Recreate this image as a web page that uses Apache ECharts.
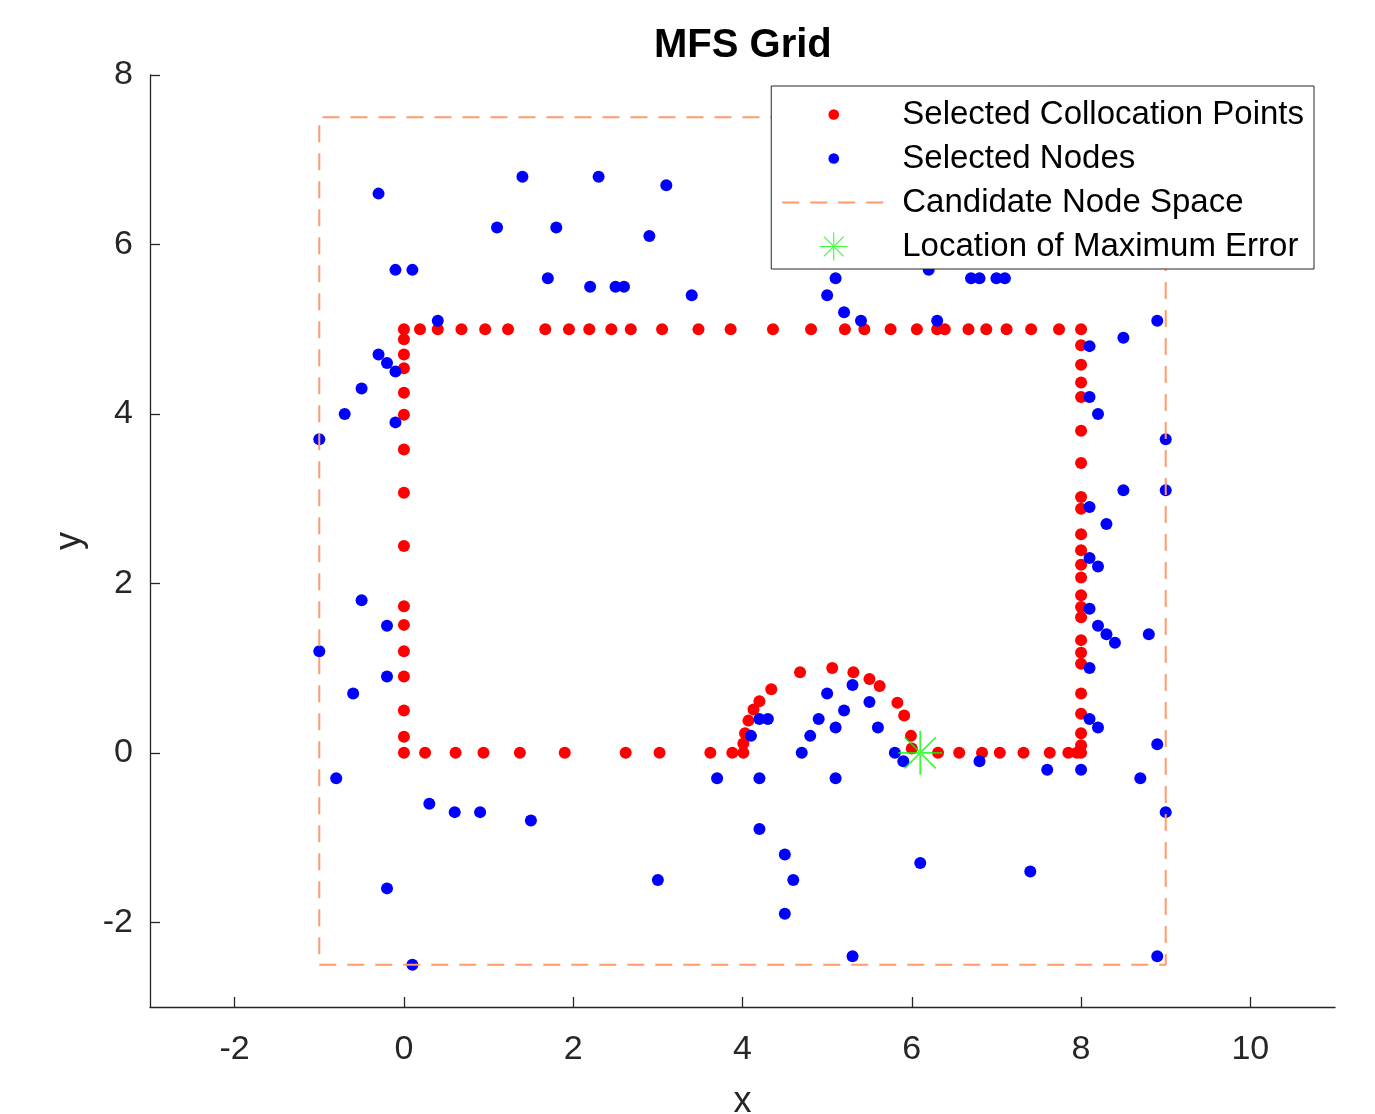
<!DOCTYPE html>
<html>
<head>
<meta charset="utf-8">
<title>MFS Grid</title>
<script src="https://cdn.jsdelivr.net/npm/echarts@6/dist/echarts.min.js"></script>
<style>
    html, body { margin: 0; padding: 0; background: #fff; }
    #chart { width: 1375px; height: 1114px; }
</style>
</head>
<body>
<div id="chart"></div>
<script>
// collocation points
var colTop = [0, 0.19, 0.40, 0.68, 0.96, 1.23, 1.67, 1.95, 2.19, 2.45, 2.68, 3.05, 3.48, 3.86, 4.36,
    4.81, 5.21, 5.44, 5.75, 6.06, 6.30, 6.39, 6.67, 6.88, 7.12, 7.41, 7.74, 8.0];           // y = 5
var colLeft = [4.88, 4.70, 4.54, 4.25, 3.99, 3.58, 3.07, 2.44, 1.73, 1.51, 1.20, 0.90, 0.50, 0.19, 0]; // x = 0
var colRight = [4.81, 4.58, 4.37, 4.20, 3.80, 3.42, 3.02, 2.88, 2.58, 2.39, 2.22, 2.07, 1.86, 1.72,
    1.60, 1.33, 1.18, 1.05, 0.70, 0.46, 0.23, 0.09, 0];                                      // x = 8
var colBottom = [0.25, 0.61, 0.94, 1.37, 1.90, 2.62, 3.02, 3.62, 3.88, 4.01,
    6.31, 6.56, 6.83, 7.04, 7.32, 7.63, 7.85, 7.95];                                          // y = 0
var colBump = [[4.01, 0.11], [4.03, 0.23], [4.07, 0.38], [4.13, 0.51], [4.20, 0.61], [4.34, 0.75],
    [4.68, 0.95], [5.06, 1.0], [5.31, 0.95], [5.50, 0.87], [5.62, 0.79], [5.83, 0.59],
    [5.91, 0.44], [5.99, 0.20], [6.0, 0.05]];

// selected nodes
var nodePts = [
    [-0.3, 6.6], [1.4, 6.8], [2.3, 6.8], [3.1, 6.7], [1.1, 6.2], [1.8, 6.2], [2.9, 6.1],
    [-0.1, 5.7], [0.1, 5.7], [1.7, 5.6], [2.2, 5.5], [2.5, 5.5], [2.6, 5.5], [3.4, 5.4], [0.4, 5.1],
    [6.2, 5.7], [5.1, 5.6], [5.0, 5.4], [5.2, 5.2], [5.4, 5.1], [6.3, 5.1],
    [6.7, 5.6], [6.8, 5.6], [7.0, 5.6], [7.1, 5.6], [8.1, 4.8], [8.5, 4.9], [8.9, 5.1],
    [-0.3, 4.7], [-0.2, 4.6], [-0.1, 4.5], [-0.5, 4.3], [-0.7, 4.0], [-0.1, 3.9], [-1.0, 3.7],
    [-0.5, 1.8], [-0.2, 1.5], [-1.0, 1.2], [-0.2, 0.9], [-0.6, 0.7],
    [8.1, 4.2], [8.2, 4.0], [9.0, 3.7], [8.5, 3.1], [9.0, 3.1], [8.1, 2.9], [8.3, 2.7],
    [8.1, 2.3], [8.2, 2.2], [8.1, 1.7], [8.2, 1.5], [8.3, 1.4], [8.4, 1.3], [8.8, 1.4],
    [8.1, 1.0], [8.1, 0.4], [8.2, 0.3], [8.9, 0.1], [7.6, -0.2], [8.0, -0.2], [8.7, -0.3],
    [4.2, 0.4], [4.3, 0.4], [4.1, 0.2], [3.7, -0.3], [4.2, -0.3], [5.0, 0.7], [5.3, 0.8],
    [4.9, 0.4], [5.2, 0.5], [5.5, 0.6], [4.8, 0.2], [5.1, 0.3], [5.6, 0.3], [4.7, 0.0],
    [5.8, 0.0], [5.9, -0.1], [5.1, -0.3], [6.8, -0.1],
    [-0.8, -0.3], [0.3, -0.6], [0.6, -0.7], [0.9, -0.7], [1.5, -0.8], [-0.2, -1.6], [3.0, -1.5], [0.1, -2.5],
    [4.2, -0.9], [4.5, -1.2], [4.6, -1.5], [4.5, -1.9], [5.3, -2.4], [6.1, -1.3], [7.4, -1.4],
    [9.0, -0.7], [8.9, -2.4]
];

// candidate node space (dashed box corners) and max error location
var boxX = [-1, 9, 9, -1, -1];
var boxY = [-2.5, -2.5, 7.5, 7.5, -2.5];
var maxErr = [[6.1, 0]];

var xTicks = [-2, 0, 2, 4, 6, 8, 10];
var yTicks = [-2, 0, 2, 4, 6, 8];

var colPts = [];
colTop.forEach(function (x) { colPts.push([x, 5]); });
colLeft.forEach(function (y) { colPts.push([0, y]); });
colRight.forEach(function (y) { colPts.push([8, y]); });
colBottom.forEach(function (x) { colPts.push([x, 0]); });
colBump.forEach(function (p) { colPts.push(p); });
var boxPts = boxX.map(function (x, i) { return [x, boxY[i]]; });

var FONT = 'Liberation Sans, Arial, Helvetica, sans-serif';
var AXIS = '#262626';
var BOX = '#ff9a6c';

// asterisk marker (matlab '*')
var starPath = 'path://M0,48L100,48L100,52L0,52Z M48,0L52,0L52,100L48,100Z ' +
    'M13.2,16L84,86.8L86.8,84L16,13.2Z M86.8,16L16,86.8L13.2,84L84,13.2Z';
// small dot padded to the legend box
var dotIcon = 'path://M0,0M100,100M31,50A19,19,0,1,1,69,50A19,19,0,1,1,31,50Z';

var myChart = echarts.init(document.getElementById('chart'));

var option = {
    animation: false,
    backgroundColor: '#fff',
    title: {
        text: 'MFS Grid',
        left: 649,
        top: 21,
        textStyle: { fontFamily: FONT, fontSize: 40, fontWeight: 'bold', color: '#000' }
    },
    grid: {
        left: 150, top: 75, width: 1185, height: 932,
        containLabel: false, outerBoundsMode: 'none'
    },
    legend: {
        orient: 'vertical',
        right: 61,
        top: 86,
        padding: [12, 10, 6, 10],
        itemWidth: 103,
        itemHeight: 28,
        itemGap: 11,
        selectedMode: false,
        backgroundColor: '#fff',
        borderColor: AXIS,
        borderWidth: 1,
        borderRadius: 0,
        textStyle: { fontFamily: FONT, fontSize: 33, color: '#000', padding: [0, 0, 0, 12] },
        data: [
            { name: 'Selected Collocation Points', icon: dotIcon },
            { name: 'Selected Nodes', icon: dotIcon },
            { name: 'Candidate Node Space' },
            { name: 'Location of Maximum Error', icon: starPath }
        ]
    },
    xAxis: {
        type: 'value',
        min: -3, max: 11,
        name: 'x',
        nameLocation: 'middle',
        nameGap: 77,
        nameTextStyle: { fontFamily: FONT, fontSize: 36, color: AXIS },
        axisLine: { show: true, onZero: false, lineStyle: { color: AXIS, width: 1.3 } },
        axisTick: { show: true, inside: true, length: 10, customValues: xTicks, lineStyle: { color: AXIS, width: 1.3 } },
        axisLabel: { customValues: xTicks, fontFamily: FONT, fontSize: 34, color: AXIS, margin: 26 },
        splitLine: { show: false }
    },
    yAxis: {
        type: 'value',
        min: -3, max: 8,
        name: 'y',
        nameLocation: 'middle',
        nameGap: 62,
        nameTextStyle: { fontFamily: FONT, fontSize: 36, color: AXIS },
        axisLine: { show: true, onZero: false, lineStyle: { color: AXIS, width: 1.3 } },
        axisTick: { show: true, inside: true, length: 10, customValues: yTicks, lineStyle: { color: AXIS, width: 1.3 } },
        axisLabel: { customValues: yTicks, fontFamily: FONT, fontSize: 34, color: AXIS, margin: 17 },
        splitLine: { show: false }
    },
    series: [
        {
            name: 'Selected Collocation Points',
            type: 'scatter',
            symbol: 'circle',
            symbolSize: 12,
            itemStyle: { color: '#ff0000', opacity: 1 },
            silent: true,
            data: colPts
        },
        {
            name: 'Selected Nodes',
            type: 'scatter',
            symbol: 'circle',
            symbolSize: 12,
            itemStyle: { color: '#0000ff', opacity: 1 },
            silent: true,
            data: nodePts
        },
        {
            name: 'Candidate Node Space',
            type: 'line',
            symbol: 'none',
            showSymbol: false,
            silent: true,
            // transparent item colour keeps the legend to just the dashed line
            itemStyle: { color: 'rgba(0,0,0,0)' },
            lineStyle: { color: BOX, width: 2, type: [17, 11] },
            data: boxPts
        },
        {
            name: 'Location of Maximum Error',
            type: 'scatter',
            symbol: starPath,
            symbolSize: 44,
            itemStyle: { color: '#00ff00' },
            silent: true,
            data: maxErr
        }
    ]
};

myChart.setOption(option);
</script>
</body>
</html>
